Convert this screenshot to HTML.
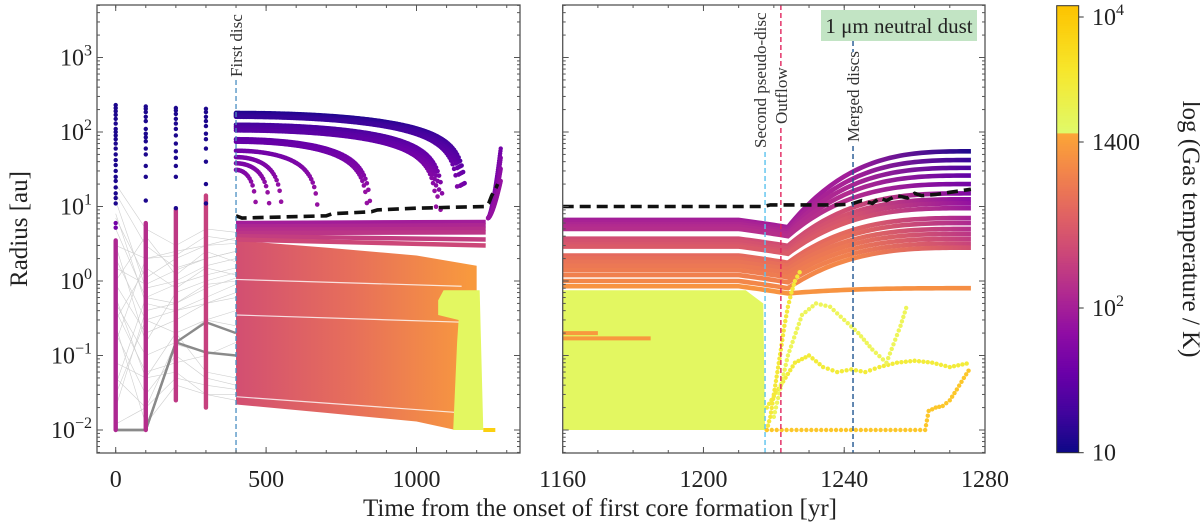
<!DOCTYPE html>
<html><head><meta charset="utf-8"><style>
html,body{margin:0;padding:0;background:#fff;}
svg{display:block;font-family:"Liberation Serif",serif;}
</style></head><body>
<svg id="c" width="1200" height="523" viewBox="0 0 1200 523" xmlns="http://www.w3.org/2000/svg">
<defs>
<clipPath id="clipL"><rect x="97" y="5" width="423" height="448"/></clipPath>
<clipPath id="clipR"><rect x="562.7" y="5" width="422.3" height="448"/></clipPath>
</defs>
<g id="plotL" clip-path="url(#clipL)"></g>
<g id="plotR" clip-path="url(#clipR)"></g>
<g id="axes"></g>
<rect x="821" y="10" width="156" height="31" fill="#c2e4c4"/>
<text x="899" y="33" font-size="21" text-anchor="middle" fill="#222">1 μm neutral dust</text>
<text transform="translate(27,229) rotate(-90)" font-size="25" text-anchor="middle" fill="#222">Radius [au]</text>
<text x="600" y="516" font-size="25" text-anchor="middle" fill="#222">Time from the onset of first core formation [yr]</text>
<g id="cbar"></g>
<text transform="translate(1183,229) rotate(90)" font-size="25" text-anchor="middle" fill="#222">log (Gas temperature / K)</text>
</svg>
<script>
// ---------- data ----------
const colTimes=[0,100,200,300];
const colPinkLow=[0.01,0.01,0.025,0.02];
const colPinkHigh=[3.5,6,9,14];
const colPinkTemp=[110,130,160,190];
const col0Navy=[230,210,190,170,150,130,110,100,90,80,70,60,50,42,36,30,25,22,18,15,13,11,6,5.2];
const col1Navy=[220,205,185,160,140,110,95,85,75,60,50,35,25,12];
const col2Navy=[210,195,175,150,130,110,90,70,55,45,35,25,9.5];
const col3Navy=[205,185,160,140,120,95,80,60,40,20,11];
const grayTimes=[0,100,200,300,400];
const grayR0=[15,8,3,1,0.5,0.2,0.05,0.01,0.01,2,0.3,0.08,12,0.02,5,0.6,0.01,0.15,20,0.9,0.04,1.5,0.4,0.012,7,0.25,0.03,3];
const grayR1=[3,0.5,2,4,0.1,0.03,0.02,0.01,0.01,0.3,1.5,0.05,0.8,0.4,0.6,0.05,0.01,2,5,0.2,0.6,0.9,0.06,0.02,1.1,0.012,0.3,0.15];
const grayR2=[1.5,0.4,2.5,1.2,0.15,0.1,0.15,0.15,0.14,0.4,0.8,0.06,1.0,0.5,0.9,0.2,0.15,2.2,3,0.3,0.5,1.4,0.08,0.05,2,0.04,0.2,0.7];
const grayR3=[2,0.6,3,2.5,0.3,0.05,0.28,0.28,0.11,0.5,1.5,0.03,1.6,0.9,1.2,0.06,0.11,4,5,0.5,0.8,2,0.1,0.04,3,0.03,0.3,1.0];
const grayR4=[2.5,0.9,3.2,1.8,0.25,0.04,0.2,0.2,0.1,0.6,1.2,0.03,2,1.0,1.5,0.05,0.1,3.5,4.5,0.7,1.1,2.5,0.15,0.035,3.8,0.025,0.4,1.3];
const infallR0=[180,175,170,165,160,125,118,112,105,80,74,56,46,38,31];
const infallTend=[1165,1160,1155,1150,1140,1090,1082,1075,1068,850,840,675,555,515,470];
const infallTemp=[12,13,14,15,16,20,22,24,26,30,32,38,42,45,48];
const bulkTopT=[400,700,1000,1200];
const bulkTopR=[3.5,2.8,2.2,1.6];
const bulkBotT=[1200,1130,1000,700,400];
const bulkBotR=[0.5,0.01,0.013,0.017,0.022];
const leftTrackR0=[6.0,5.4,4.9,4.4,4.0,3.6];
const leftTrackR1=[6.2,5.6,5.0,4.5,3.6,3.0];
const leftTrackTemp=[90,110,130,150,180,220];
const leftGapR0=[1.05,0.35,0.028];
const leftGapR1=[0.85,0.28,0.017];
const yelT=[1072,1090,1210,1222,1122,1135,1140,1072];
const yelR=[0.55,0.75,0.75,0.01,0.01,0.15,0.3,0.35];
const spikeR1=[60,45,32,22];
const spikeTemp=[40,50,60,70];
const dashLT=[400,420,700,720,850,870,1000,1230,1240,1250,1265,1270];
const dashLR=[7.5,7,7.5,8,8.5,9,9.5,10,11,14,18,20];
const rtR0=[6.6,6.2,5.8,5.4,5.0,3.7,3.4,3.1,2.9,2.2,2.0,1.8,1.6,1.4,1.2,1.0,0.85];
const rtR1=[55,42,33,26,20,15,12.5,11,9.5,7,6,5,4.3,3.7,3.2,2.8,0.8];
const rtT0=[90,100,110,120,130,250,280,300,330,450,500,550,600,650,700,800,1000];
const rtT1=[12,16,22,30,40,50,60,70,80,100,110,130,150,170,200,260,900];
const yc1T=[1218,1222,1226,1230,1234,1238,1242,1246,1250,1255,1260,1265,1270,1276];
const yc1R=[0.02,0.04,0.08,0.1,0.07,0.06,0.065,0.06,0.07,0.08,0.085,0.08,0.07,0.08];
const yc2T=[1220,1224,1228,1232,1236,1240,1244,1248,1252,1256,1258];
const yc2R=[0.015,0.1,0.35,0.5,0.45,0.3,0.2,0.12,0.08,0.25,0.5];
const yc3T=[1218,1219,1220,1221,1222,1223,1224,1225,1226,1228];
const yc3R=[0.01,0.015,0.03,0.06,0.12,0.25,0.45,0.7,1.0,1.5];
const goldT=[1218,1263,1264,1266,1268,1270,1272,1274,1276];
const goldR=[0.01,0.01,0.018,0.02,0.021,0.025,0.035,0.05,0.07];
const dashRT=[1160,1217,1219,1230,1238,1242,1245,1248,1250,1252,1255,1258,1260,1262,1266,1270,1276];
const dashRR=[10,10,10.5,10.5,10.5,10.8,12,11,13,12,14,13,15,14,14.5,15.5,17];
const eventT=[1217.5,1222,1242.5];
const eventLabels=["Second pseudo-disc","Outflow","Merged discs"];
const xTicksL=[0,500,1000];
const xTicksR=[1160,1200,1240,1280];
const yTickExp=[3,2,1,0,-1,-2];

// ---------- scales ----------
const NS="http://www.w3.org/2000/svg";
function yS(r){return 430-(Math.log10(r)+2)*74.5;}
function xL(t){return 115.7+t*0.3008;}
function xR(t){return 562.7+(t-1160)*3.519;}
const plasma=["#0d0887","#41049d","#6a00a8","#8f0da4","#b12a90","#cc4778","#e16462","#f2844b","#fca636"];
function hx(h){return [1,3,5].map(i=>parseInt(h.substr(i,2),16));}
function mix(a,b,f){const A=hx(a),B=hx(b);return "rgb("+A.map((v,i)=>Math.round(v+(B[i]-v)*f)).join(",")+")";}
function cmap(T){
  const l=Math.log10(T);
  if(T<=1400){let f=(l-1)/(Math.log10(1400)-1);f=Math.max(0,Math.min(1,f))*8;const i=Math.min(7,Math.floor(f));return mix(plasma[i],plasma[i+1],f-i);}
  let f=(l-Math.log10(1400))/(4-Math.log10(1400));f=Math.max(0,Math.min(1,f));
  return f<0.5?mix("#e0fa6a","#f7e62b",f*2):mix("#f7e62b","#fdc300",(f-0.5)*2);
}
function el(tag,attrs,parent){const e=document.createElementNS(NS,tag);for(const k in attrs)e.setAttribute(k,attrs[k]);parent.appendChild(e);return e;}
const PL=document.getElementById('plotL'),PR=document.getElementById('plotR'),AX=document.getElementById('axes');

// ---------- left panel ----------
for(let i=0;i<grayR0.length;i++){
  const rs=[grayR0[i],grayR1[i],grayR2[i],grayR3[i],grayR4[i]];
  const p=el('polyline',{points:rs.map((r,j)=>xL(grayTimes[j])+","+yS(r)).join(" "),fill:"none",stroke:"#cfcfcf","stroke-width":0.6},PL);
  
  
}
[[0.01,0.01,0.15,0.28,0.2],[0.01,0.01,0.15,0.11,0.1]].forEach(rs=>{
  const p=el('polyline',{points:rs.map((r,j)=>xL(grayTimes[j])+","+yS(r)).join(" "),fill:"none",stroke:"#8a8a8a","stroke-width":2.4},PL);
  
  
});
const navyCols=[col0Navy,col1Navy,col2Navy,col3Navy];
colTimes.forEach((t,i)=>{
  const x=xL(t);
  const c=cmap(colPinkTemp[i]);
  const ln=el('line',{x1:x,x2:x,y1:yS(colPinkLow[i]),y2:yS(colPinkHigh[i]),stroke:c,"stroke-width":4.4,"stroke-linecap":"round"},PL);
  
  
  navyCols[i].forEach(r=>{
    const d=el('circle',{cx:x,cy:yS(r),r:2.2,fill:r<9?cmap(40):cmap(12)},PL);
    
    
  });
});
let gid=0;
function grad(x1,x2,stops){
  const id='g'+(gid++);
  const g=el('linearGradient',{id:id,gradientUnits:"userSpaceOnUse",x1:x1,x2:x2,y1:0,y2:0},document.querySelector('defs'));
  stops.forEach((s,i)=>el('stop',{offset:i/(stops.length-1),"stop-color":s},g));
  return 'url(#'+id+')';
}
const bulkFill=grad(xL(400),xL(1180),[cmap(260),cmap(500),cmap(1100)]);
const bulkPts=bulkTopT.map((t,i)=>xL(t)+","+yS(bulkTopR[i])).concat(bulkBotT.map((t,i)=>xL(t)+","+yS(bulkBotR[i])));
const bulk=el('polygon',{points:bulkPts.join(" "),fill:bulkFill},PL);


leftGapR0.forEach((r,i)=>{
  const g=el('line',{x1:xL(400),x2:xL(1150),y1:yS(r),y2:yS(leftGapR1[i]),stroke:"#fff","stroke-width":1.2,opacity:0.8},PL);
  
  
});
leftTrackR0.forEach((r,i)=>{
  const tr=el('line',{x1:xL(400),x2:xL(1230),y1:yS(r),y2:yS(leftTrackR1[i]),stroke:cmap(leftTrackTemp[i]),"stroke-width":4.5},PL);
  
  
});
const yel=el('polygon',{points:yelT.map((t,i)=>xL(t)+","+yS(yelR[i])).join(" "),fill:cmap(1600)},PL);


const goldL=el('line',{x1:xL(1222),x2:xL(1262),y1:yS(0.01),y2:yS(0.01),stroke:cmap(7000),"stroke-width":4},PL);


infallR0.forEach((r0,i)=>{
  const te=infallTend[i];
  for(let t=400;t<=te;t+=5){
    const s=(t-400)/(te-400);
    const r=r0*Math.sqrt(Math.max(0,1-s*s));
    if(r<6.5)break;
    const d=el('circle',{cx:xL(t),cy:yS(r),r:2.3,fill:cmap(Math.min(70,infallTemp[i]*Math.sqrt(r0/r)))},PL);
    
    
  }
});
spikeR1.forEach((r1,i)=>{
  for(let t=1238;t<=1280;t+=1){
    const s=Math.pow((t-1238)/42,1.5);
    const r=Math.pow(10,Math.log10(7)+(Math.log10(r1)-Math.log10(7))*s);
    const d=el('circle',{cx:xL(t),cy:yS(r),r:2.2,fill:cmap(spikeTemp[i])},PL);
    
    
  }
});
const dl=el('polyline',{points:dashLT.map((t,i)=>xL(t)+","+yS(dashLR[i])).join(" "),fill:"none",stroke:"#111","stroke-width":3.6,"stroke-dasharray":"11,6"},PL);


const fd=el('line',{x1:xL(400),x2:xL(400),y1:80,y2:453,stroke:"#4a8ec2","stroke-width":1.3,"stroke-dasharray":"5,3"},PL);


const fdt=el('text',{transform:"translate("+(xL(400)+6)+",77) rotate(-90)","font-size":17,fill:"#333"},AX);
fdt.textContent="First disc";



// ---------- right panel ----------
const yb=el('polygon',{points:[xR(1160)+","+yS(0.75),xR(1212)+","+yS(0.75),xR(1217)+","+yS(0.5),xR(1217.5)+","+yS(0.01),xR(1160)+","+yS(0.01)].join(" "),fill:cmap(1600)},PR);


[[0.2,1170],[0.17,1185]].forEach(a=>{
  const s=el('line',{x1:xR(1160),x2:xR(a[1]),y1:yS(a[0]),y2:yS(a[0]),stroke:cmap(1100),"stroke-width":4},PR);
  
  
});
rtR0.forEach((r0,i)=>{
  const r1=rtR1[i],pts=[];
  for(let t=1160;t<=1276;t+=1){
    let r;
    if(t<=1210)r=r0;
    else if(t<=1224)r=r0*(1-0.2*(t-1210)/14);
    else{const s=(t-1224)/52;const e=1-Math.pow(1-s,3);r=Math.pow(10,Math.log10(r0*0.8)+(Math.log10(r1)-Math.log10(r0*0.8))*e);}
    pts.push(xR(t)+","+yS(r));
  }
  const g=grad(xR(1205),xR(1276),[cmap(rtT0[i]),cmap(rtT0[i]),cmap(rtT1[i])]);
  const p=el('polyline',{points:pts.join(" "),fill:"none",stroke:g,"stroke-width":4.6},PR);
  
  
});
function dotCurve(T,R,col,name){
  for(let i=0;i<T.length-1;i++){
    const dx=xR(T[i+1])-xR(T[i]),dy=yS(R[i+1])-yS(R[i]);
    const n=Math.max(1,Math.ceil(Math.hypot(dx,dy)/5));
    for(let k=0;k<n;k++){
      const f=k/n,t=T[i]+(T[i+1]-T[i])*f,r=Math.pow(10,Math.log10(R[i])+(Math.log10(R[i+1])-Math.log10(R[i]))*f);
      const d=el('circle',{cx:xR(t),cy:yS(r),r:2.2,fill:col},PR);
      
      
    }
  }
}
dotCurve(yc1T,yc1R,"#f3ec3a","yellow-track");
dotCurve(yc2T,yc2R,"#eef55a","yellow-track");
dotCurve(yc3T,yc3R,"#f5e83a","yellow-track");
dotCurve(goldT,goldR,"#fcc72a","hot-core-track");
const dr=el('polyline',{points:dashRT.map((t,i)=>xR(t)+","+yS(dashRR[i])).join(" "),fill:"none",stroke:"#111","stroke-width":3.6,"stroke-dasharray":"11,6"},PR);


const evCol=["#5bc2ee","#e0245e","#1f5590"];
const evTop=[152,128,146];
const evTextTop=[15,70,55];
eventT.forEach((t,i)=>{
  const l=el('line',{x1:xR(t),x2:xR(t),y1:evTop[i],y2:453,stroke:evCol[i],"stroke-width":1.4,"stroke-dasharray":"5,3"},PR);
  
  
  if(i>0){
    const l2=el('line',{x1:xR(t),x2:xR(t),y1:i==1?5:41,y2:evTextTop[i]-3,stroke:evCol[i],"stroke-width":1.4,"stroke-dasharray":"5,3"},PR);
    
    
  }
  const tx=el('text',{transform:"translate("+(xR(t)+(i==0?1:6))+","+(evTop[i]-4)+") rotate(-90)","font-size":17,fill:"#333"},AX);
  tx.textContent=eventLabels[i];
  
  
});

// ---------- axes ----------
function frame(x0,x1,xs,ticks,minor){
  const f=el('rect',{x:x0,y:5,width:x1-x0,height:448,fill:"none",stroke:"#555","stroke-width":1.3},AX);
  
  
  ticks.forEach(t=>{
    const x=xs(t);
    el('line',{x1:x,x2:x,y1:453,y2:447,stroke:"#555"},AX);
    el('line',{x1:x,x2:x,y1:5,y2:11,stroke:"#555"},AX);
    const tl=el('text',{x:x,y:487,"font-size":24,"text-anchor":"middle",fill:"#222"},AX);
    tl.textContent=t;
    
    
  });
  minor.forEach(t=>{const x=xs(t);if(x<x0||x>x1)return;
    el('line',{x1:x,x2:x,y1:453,y2:450,stroke:"#555"},AX);
    el('line',{x1:x,x2:x,y1:5,y2:8,stroke:"#555"},AX);});
  for(let e=-3;e<=3;e++){for(let m=1;m<10;m++){
    const y=yS(m*Math.pow(10,e));if(y<5||y>453)continue;
    const L=m==1?6:3;
    el('line',{x1:x0,x2:x0+L,y1:y,y2:y,stroke:"#555"},AX);
    el('line',{x1:x1,x2:x1-L,y1:y,y2:y,stroke:"#555"},AX);
  }}
}
const minL=[],minR=[];
for(let t=-100;t<=1400;t+=100)minL.push(t);
for(let t=1160;t<=1280;t+=10)minR.push(t);
frame(97,520,xL,xTicksL,minL);
frame(562.7,985,xR,xTicksR,minR);
yTickExp.forEach(e=>{
  const y=yS(Math.pow(10,e));
  const t=el('text',{x:92,y:y+8,"font-size":24,"text-anchor":"end",fill:"#222"},AX);
  
  
  const b=el('tspan',{},t);b.textContent="10";
  const s=el('tspan',{dy:-10,"font-size":16},t);s.textContent=(e<0?"\u2212"+(-e):""+e);
});

// ---------- colorbar ----------
const CB=document.getElementById('cbar');
const cbTop=5.7,cbBot=452.7,cbX=1056.7,cbW=22;
function cbY(T){return cbBot-(Math.log10(T)-1)/3*(cbBot-cbTop);}
for(let i=0;i<200;i++){
  const l0=1+3*i/200,l1=1+3*(i+1)/200;
  el('rect',{x:cbX,y:cbY(Math.pow(10,l1))-0.3,width:cbW,height:cbY(Math.pow(10,l0))-cbY(Math.pow(10,l1))+0.6,fill:cmap(Math.pow(10,(l0+l1)/2))},CB);
}
el('rect',{x:cbX,y:cbTop,width:cbW,height:cbBot-cbTop,fill:"none",stroke:"#333","stroke-width":1},CB);
const cbTicks=[10,100,1400,10000];
const cbLabels=[["10",""],["10","2"],["1400",""],["10","4"]];
const cbPos=[452.7,308,142,17];
cbTicks.forEach((T,i)=>{
  const y=cbPos[i];
  el('line',{x1:cbX+cbW,x2:cbX+cbW+5,y1:y,y2:y,stroke:"#333"},CB);
  const t=el('text',{x:1092,y:y+8,"font-size":24,fill:"#222"},CB);
  
  
  const b=el('tspan',{},t);b.textContent=cbLabels[i][0];
  if(cbLabels[i][1]){const s=el('tspan',{dy:-10,"font-size":16},t);s.textContent=cbLabels[i][1];}
});
</script>
</body></html>
